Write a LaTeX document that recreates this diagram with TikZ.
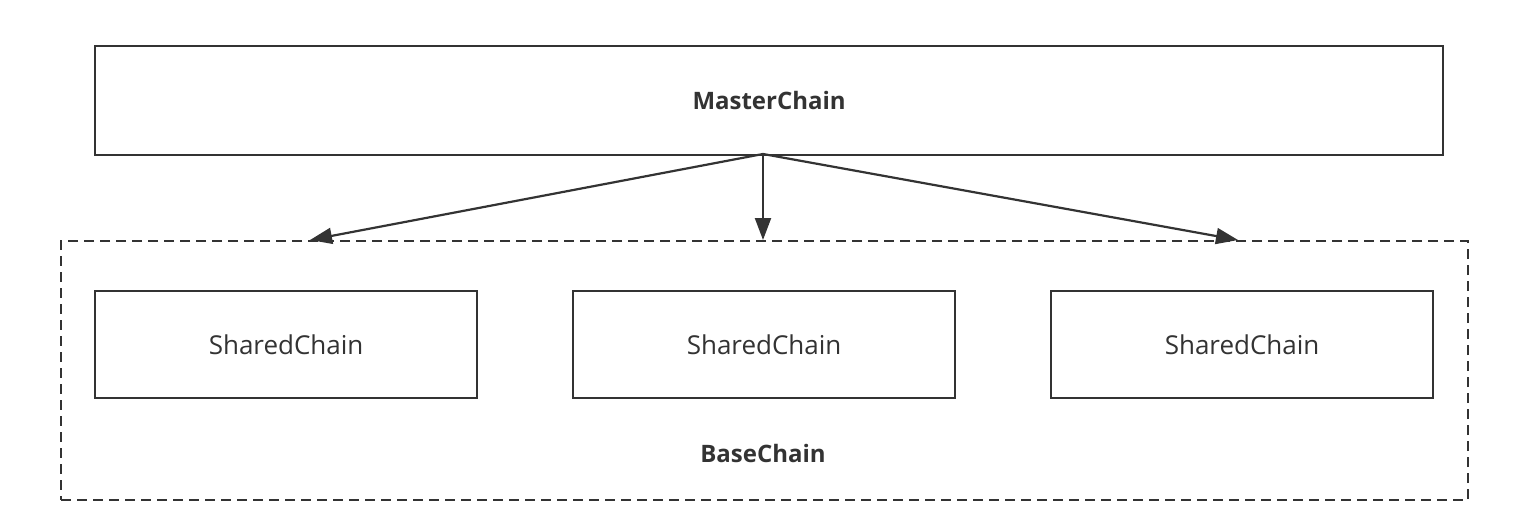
\documentclass[tikz,border=0pt]{standalone}
\usepackage{fontspec}
\setmainfont{Open Sans}
\usetikzlibrary{arrows.meta}
\definecolor{ink}{HTML}{333333}
\tikzset{
  box/.style={draw=ink, line width=2.2pt, fill=white, inner sep=0pt, anchor=north west, text=ink, font=\fontsize{26}{30}\selectfont},
  grp/.style={draw=ink, line width=2.2pt, dash pattern=on 10pt off 6pt, anchor=north west, inner sep=0pt},
  conn/.style={draw=ink, line width=2.2pt, -{Triangle[length=22pt,width=16pt]}},
  boldtext/.style={text=ink, font=\fontsize{24}{28}\selectfont\bfseries},
}
\begin{document}
\begin{tikzpicture}[x=1pt,y=-1pt]
\useasboundingbox (0,0) rectangle (1518,530);
\node[grp, minimum width=1407pt, minimum height=259pt] (base) at (60,240) {};
\node[box, boldtext, minimum width=1348pt, minimum height=109pt] (master) at (94,45) {MasterChain};
\node[box, minimum width=382pt, minimum height=107pt] (s1) at (94,290) {SharedChain};
\node[box, minimum width=382pt, minimum height=107pt] (s2) at (572,290) {SharedChain};
\node[box, minimum width=382pt, minimum height=107pt] (s3) at (1050,290) {SharedChain};
\node[boldtext] (label) at (763,453) {BaseChain};
\coordinate (src) at (763,154);
\coordinate (t1) at (310,240);
\coordinate (t2) at (763,240);
\coordinate (t3) at (1238,240);
\draw[conn] (src) -- (t1);
\draw[conn] (src) -- (t2);
\draw[conn] (src) -- (t3);
\end{tikzpicture}
\end{document}
